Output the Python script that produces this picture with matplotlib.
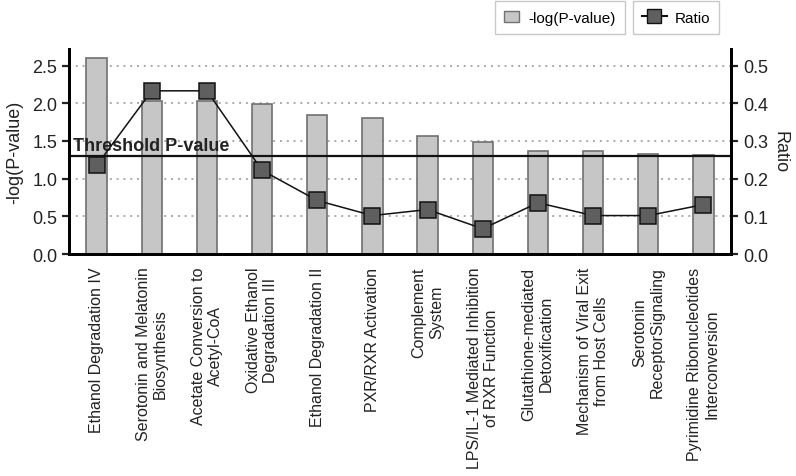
import numpy as np
import matplotlib.pyplot as plt
from matplotlib.patches import Patch
from matplotlib.lines import Line2D

plt.rcParams['font.family'] = ['Liberation Sans', 'DejaVu Sans']

# pathways
categories = ["Ethanol Degradation IV",
              "Serotonin and Melatonin\nBiosynthesis",
              "Acetate Conversion to\nAcetyl-CoA",
              "Oxidative Ethanol\nDegradation III",
              "Ethanol Degradation II",
              "PXR/RXR Activation",
              "Complement\nSystem",
              "LPS/IL-1 Mediated Inhibition\nof RXR Function",
              "Glutathione-mediated\nDetoxification",
              "Mechanism of Viral Exit\nfrom Host Cells",
              "Serotonin\nReceptorSignaling",
              "Pyrimidine Ribonucleotides\nInterconversion"]
logp = [2.60, 2.03, 2.03, 1.99, 1.85, 1.81, 1.57, 1.48, 1.37, 1.37, 1.33, 1.31]
ratio = [0.235, 0.433, 0.433, 0.222, 0.142, 0.102, 0.118, 0.067, 0.136, 0.102, 0.102, 0.131]
threshold = 1.30

x = np.arange(len(categories))

fig = plt.figure(figsize=(7.96, 4.77), dpi=100)
ax = fig.add_axes([69/796, 1-255/477, 662/796, 205/477])
ax2 = ax.twinx()

ax.bar(x, logp, width=0.37, color='#c6c6c6', edgecolor='#707070', linewidth=1.2, zorder=2)
ax.axhline(threshold, color='#111111', lw=1.6, zorder=3)
ax.text(-0.42, threshold + 0.03, 'Threshold P-value', fontsize=13, fontweight='bold',
        color='#222222', va='bottom', ha='left', zorder=4)

ax2.plot(x, ratio, color='#111111', lw=1.1, marker='s', markersize=11,
         markerfacecolor='#5f5f5f', markeredgecolor='#111111', markeredgewidth=1.1, zorder=5)

ax.set_xlim(-0.5, len(categories) - 0.5)
ax.set_ylim(0, 2.72)
ax2.set_ylim(0, 2.72 / 5)
ax.set_yticks([0, 0.5, 1.0, 1.5, 2.0, 2.5])
ax.set_yticklabels(['0.0', '0.5', '1.0', '1.5', '2.0', '2.5'])
ax2.set_yticks([0, 0.1, 0.2, 0.3, 0.4, 0.5])
ax2.set_yticklabels(['0.0', '0.1', '0.2', '0.3', '0.4', '0.5'])
for y in [0.5, 1.0, 1.5, 2.0, 2.5]:
    ax.axhline(y, color='#aaaaaa', lw=1.4, ls=(0, (1, 2.5)), zorder=1)

ax.set_xticks(x)
ax.set_xticklabels(categories, rotation=90, fontsize=11.5, color='#222222',
                   ha='center', va='top', multialignment='center')
ax.tick_params(axis='x', length=0, pad=9)
ax.tick_params(axis='y', labelsize=13, colors='#222222', width=1.6, length=5)
ax2.tick_params(axis='y', labelsize=13, colors='#222222', width=1.6, length=5)
for a in (ax, ax2):
    a.spines['top'].set_visible(False)
    a.spines['left'].set_linewidth(2)
    a.spines['right'].set_linewidth(2)
    a.spines['bottom'].set_linewidth(2)
ax.set_ylabel('-log(P-value)', fontsize=13, color='#222222', labelpad=6)
ax2.set_ylabel('Ratio', fontsize=13, color='#222222', rotation=270, labelpad=15)

h1 = [Patch(facecolor='#c6c6c6', edgecolor='#707070', label='-log(P-value)')]
h2 = [Line2D([0], [0], color='#111111', marker='s', markersize=10,
             markerfacecolor='#5f5f5f', markeredgecolor='#111111', label='Ratio')]
fig.legend(handles=h1, loc='upper left', bbox_to_anchor=(495/796, 0.995),
           fontsize=11, frameon=True, fancybox=False, edgecolor='#bbbbbb',
           handlelength=1.0, handletextpad=0.6, borderpad=0.6, borderaxespad=0)
fig.legend(handles=h2, loc='upper left', bbox_to_anchor=(633/796, 0.995),
           fontsize=11, frameon=True, fancybox=False, edgecolor='#bbbbbb',
           handlelength=1.6, handletextpad=0.5, borderpad=0.6, borderaxespad=0)

fig.savefig('out.png', dpi=100)
